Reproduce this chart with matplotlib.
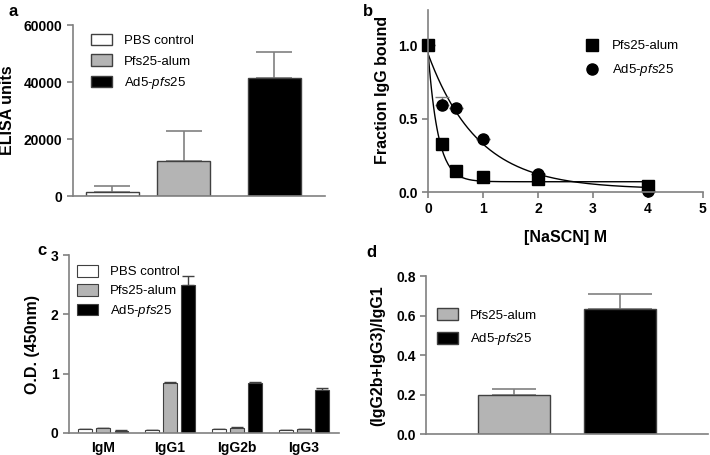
import numpy as np
import matplotlib.pyplot as plt

plt.rcParams['font.family'] = ['Liberation Sans', 'DejaVu Sans']
plt.rcParams['mathtext.fontset'] = 'custom'
plt.rcParams['mathtext.rm'] = 'Liberation Sans'
plt.rcParams['mathtext.it'] = 'Liberation Sans:italic'

# --- data ---
groups = ['PBS control', 'Pfs25-alum', 'Ad5-$\\it{pfs25}$']
colors = ['white', '#b4b4b4', 'black']

elisa_mean = [1500, 12300, 41500]
elisa_err = [2000, 10700, 9200]

nascn = [0, 0.25, 0.5, 1, 2, 4]
alum_bound = [1.0, 0.33, 0.14, 0.10, 0.09, 0.04]
ad5_bound = [1.0, 0.59, 0.57, 0.36, 0.12, 0.01]
ad5_bound_err = [0, 0.06, 0, 0, 0, 0]
# one-phase decay fits: plateau, span, k
alum_fit = (0.07, 0.88, 5.5)
ad5_fit = (0.02, 0.92, 1.1)

isotypes = ['IgM', 'IgG1', 'IgG2b', 'IgG3']
od_pbs = [0.06, 0.05, 0.06, 0.05]
od_alum = [0.08, 0.84, 0.09, 0.07]
od_ad5 = [0.04, 2.50, 0.85, 0.73]
od_pbs_err = [0.005, 0.005, 0.005, 0.005]
od_alum_err = [0.01, 0.02, 0.01, 0.005]
od_ad5_err = [0.005, 0.14, 0.015, 0.03]

ratio_mean = [0.20, 0.635]
ratio_err = [0.03, 0.075]

spine_c = '#808080'
edge_c = '#404040'

fig = plt.figure(figsize=(7.1, 4.55), dpi=100)


def style(ax):
    for s in ['top', 'right']:
        ax.spines[s].set_visible(False)
    for s in ['left', 'bottom']:
        ax.spines[s].set_color(spine_c)
        ax.spines[s].set_linewidth(1.2)
    ax.tick_params(colors=spine_c, labelcolor='black', width=1.2, length=4,
                   labelsize=10)
    for lab in ax.get_yticklabels() + ax.get_xticklabels():
        lab.set_fontweight('bold')


leg_kw = dict(loc='upper left', frameon=False, fontsize=9.5, handletextpad=0.9,
              borderpad=0, borderaxespad=0)

# --- panel a ---
ax = fig.add_axes([0.1028, 0.569, 0.355, 0.376])
xa = [0, 1, 2.26]
for i in range(3):
    ax.bar(xa[i], elisa_mean[i], width=0.74, color=colors[i], edgecolor=edge_c,
           linewidth=1, label=groups[i], zorder=2)
    ax.errorbar(xa[i], elisa_mean[i], yerr=[[0], [elisa_err[i]]], color=spine_c,
                capsize=13, elinewidth=1.2, capthick=1.2, zorder=1)
ax.set_xlim(-0.55, 2.97)
ax.set_ylim(0, 60000)
ax.set_yticks([0, 20000, 40000, 60000])
ax.set_xticks([])
style(ax)
ax.set_ylabel('ELISA units', fontsize=11.5, fontweight='bold', labelpad=6)
ax.legend(bbox_to_anchor=(0.071, 0.95), handlelength=1.6, handleheight=1.0,
          labelspacing=0.55, **leg_kw)
fig.text(0.012, 0.965, 'a', fontsize=12, fontweight='bold')

# --- panel b ---
ax = fig.add_axes([0.603, 0.578, 0.387, 0.4])
xs = np.linspace(0, 4, 200)
p, s, k = alum_fit
ax.plot(xs, p + s * np.exp(-k * xs), color='black', lw=1)
p, s, k = ad5_fit
ax.plot(xs, p + s * np.exp(-k * xs), color='black', lw=1)
ax.errorbar(nascn, ad5_bound, yerr=[[0] * 6, ad5_bound_err], fmt='none',
            ecolor=spine_c, capsize=5, elinewidth=1, capthick=1)
ax.plot(nascn, alum_bound, 's', color='black', ms=8, label='Pfs25-alum', clip_on=False)
ax.plot(nascn, ad5_bound, 'o', color='black', ms=8, label='Ad5-$\\it{pfs25}$', clip_on=False)
ax.set_xlim(0, 5)
ax.set_ylim(0, 1.24)
ax.set_xticks([0, 1, 2, 3, 4, 5])
ax.set_yticks([0, 0.5, 1.0])
ax.set_yticklabels(['0.0', '0.5', '1.0'])
style(ax)
ax.set_xlabel('[NaSCN] M', fontsize=11.5, fontweight='bold', labelpad=10)
ax.set_ylabel('Fraction IgG bound', fontsize=11.5, fontweight='bold')
ax.yaxis.set_label_coords(-0.14, 0.56)
ax.legend(bbox_to_anchor=(0.567, 0.835), handlelength=1.2, labelspacing=0.75,
          numpoints=1, **leg_kw)
fig.text(0.511, 0.965, 'b', fontsize=12, fontweight='bold')

# --- panel c ---
ax = fig.add_axes([0.0972, 0.0484, 0.380, 0.391])
xc = np.arange(len(isotypes))
series = [(od_pbs, od_pbs_err), (od_alum, od_alum_err), (od_ad5, od_ad5_err)]
for j, (vals, errs) in enumerate(series):
    pos = xc + (j - 1) * 0.27
    ax.bar(pos, vals, width=0.2, color=colors[j], edgecolor=edge_c, linewidth=0.8,
           label=groups[j], zorder=2)
    ax.errorbar(pos, vals, yerr=[[0] * 4, errs], fmt='none', ecolor=edge_c,
                capsize=4, elinewidth=1, capthick=1, zorder=1)
ax.set_xlim(-0.51, 3.52)
ax.set_ylim(0, 3)
ax.set_yticks([0, 1, 2, 3])
ax.set_xticks(xc)
ax.set_xticklabels(isotypes)
style(ax)
ax.tick_params(axis='x', length=0, pad=6)
ax.set_ylabel('O.D. (450nm)', fontsize=11.5, fontweight='bold', labelpad=8)
ax.legend(bbox_to_anchor=(0.03, 0.944), handlelength=1.6, handleheight=1.0,
          labelspacing=0.42, **leg_kw)
fig.text(0.052, 0.44, 'c', fontsize=12, fontweight='bold')

# --- panel d ---
ax = fig.add_axes([0.6, 0.046, 0.397, 0.347])
xd = [0, 1]
for i in range(2):
    ax.bar(xd[i], ratio_mean[i], width=0.68, color=colors[i + 1], edgecolor=edge_c,
           linewidth=1, label=groups[i + 1], zorder=2)
    ax.errorbar(xd[i], ratio_mean[i], yerr=[[0], [ratio_err[i]]], color=spine_c,
                capsize=[16, 23][i], elinewidth=1.2, capthick=1.2, zorder=1)
ax.set_xlim(-0.83, 1.83)
ax.set_ylim(0, 0.8)
ax.set_yticks([0, 0.2, 0.4, 0.6, 0.8])
ax.set_yticklabels(['0.0', '0.2', '0.4', '0.6', '0.8'])
ax.set_xticks([])
style(ax)
ax.set_ylabel('(IgG2b+IgG3)/IgG1', fontsize=11.5, fontweight='bold', labelpad=8)
ax.legend(bbox_to_anchor=(0.039, 0.797), handlelength=1.6, handleheight=1.0,
          labelspacing=0.73, **leg_kw)
fig.text(0.516, 0.435, 'd', fontsize=12, fontweight='bold')

fig.savefig('out.png', dpi=100)
